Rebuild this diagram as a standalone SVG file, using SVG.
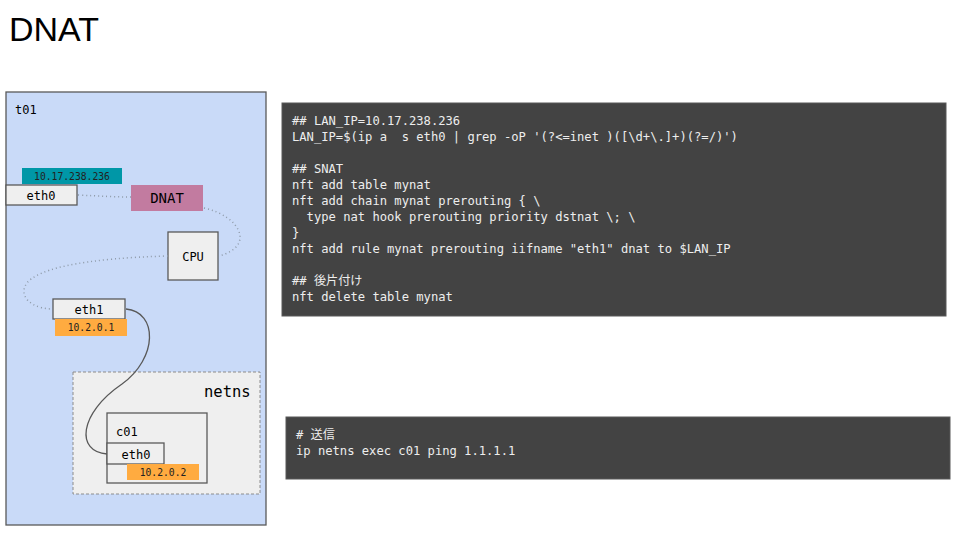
<svg xmlns="http://www.w3.org/2000/svg" width="960" height="540" viewBox="0 0 960 540">
<style>
.box{fill:#efefef;stroke:#595959;stroke-width:1.3}
.mono{font-family:"DejaVu Sans Mono","Liberation Mono",monospace;fill:#000}
.lbl{font-size:12px}
.ip{font-size:9.7px;fill:#222}
.code{font-family:"DejaVu Sans Mono","Liberation Mono","Noto Sans CJK JP",monospace;font-size:12.15px;fill:#eeeeee;white-space:pre}
.dot{fill:none;stroke:#8e9aa8;stroke-width:1.5;stroke-dasharray:1 3}
.solid{fill:none;stroke:#595959;stroke-width:1.3}
</style>
<rect width="960" height="540" fill="#ffffff"/>
<text x="9" y="41" font-family="Liberation Sans, Arial, sans-serif" font-size="34" fill="#000">DNAT</text>

<g id="t01">
<rect x="6" y="92" width="260" height="433" fill="#c9daf8" stroke="#595959" stroke-width="1.3"/>
<text class="mono lbl" x="15" y="114">t01</text>
</g>

<g id="netns">
<rect x="73" y="372" width="187" height="122" fill="#efefef" stroke="#8c8c8c" stroke-width="1" stroke-dasharray="3 2"/>
<text class="mono" x="204" y="397" font-size="15.5">netns</text>
</g>

<g id="c01">
<rect class="box" x="107" y="413" width="100" height="70"/>
<text class="mono lbl" x="116" y="436">c01</text>
</g>

<g id="eth0_c01">
<rect class="box" x="107" y="443" width="57" height="21"/>
<text class="mono lbl" x="136" y="459" text-anchor="middle">eth0</text>
</g>
<g id="ip_10_2_0_2">
<rect x="127" y="464" width="72" height="16" fill="#ffab40"/>
<text class="mono ip" x="163" y="475.5" text-anchor="middle">10.2.0.2</text>
</g>

<g id="ip_lan">
<rect x="22" y="168" width="100" height="16" fill="#0097a7"/>
<text class="mono ip" x="72" y="179.5" text-anchor="middle">10.17.238.236</text>
</g>
<g id="eth0">
<rect class="box" x="6" y="185" width="71" height="20"/>
<text class="mono lbl" x="41" y="200" text-anchor="middle">eth0</text>
</g>

<g id="dnat">
<rect x="131" y="185" width="72" height="26" fill="#c27ba0"/>
<text class="mono" x="167" y="203" font-size="14" text-anchor="middle">DNAT</text>
</g>

<g id="cpu">
<rect class="box" x="168" y="232" width="50" height="48"/>
<text class="mono lbl" x="193" y="261" text-anchor="middle">CPU</text>
</g>

<g id="eth1">
<rect class="box" x="53" y="299" width="72" height="20"/>
<text class="mono lbl" x="89" y="314" text-anchor="middle">eth1</text>
</g>
<g id="ip_10_2_0_1">
<rect x="55" y="319" width="72" height="17" fill="#ffab40"/>
<text class="mono ip" x="91" y="331" text-anchor="middle">10.2.0.1</text>
</g>

<g id="connectors">
<path class="dot" d="M78,195 C100,196 115,197 131,197"/>
<path class="dot" d="M204,208 C240,216 256,246 219,256"/>
<path class="dot" d="M168,256 C90,258 26,268 24,290 C23,302 38,309 53,309"/>
<path class="solid" d="M126,309 C158,312 158,358 122,384 C78,414 76,452 107,454"/>
</g>

<g id="code1">
<rect x="282" y="103" width="664" height="213" fill="#434343" stroke="#595959" stroke-width="1"/>
<text class="code" x="292" y="125">## LAN_IP=10.17.238.236</text>
<text class="code" x="292" y="141">LAN_IP=$(ip a  s eth0 | grep -oP '(?&lt;=inet )([\d+\.]+)(?=/)')</text>
<text class="code" x="292" y="173">## SNAT</text>
<text class="code" x="292" y="189">nft add table mynat</text>
<text class="code" x="292" y="205">nft add chain mynat prerouting { \</text>
<text class="code" x="292" y="221">  type nat hook prerouting priority dstnat \; \</text>
<text class="code" x="292" y="237">}</text>
<text class="code" x="292" y="253">nft add rule mynat prerouting iifname "eth1" dnat to $LAN_IP</text>
<text class="code" x="292" y="285">## 後片付け</text>
<text class="code" x="292" y="301">nft delete table mynat</text>
</g>

<g id="code2">
<rect x="286" y="417" width="664" height="62" fill="#434343" stroke="#595959" stroke-width="1"/>
<text class="code" x="296" y="439"># 送信</text>
<text class="code" x="296" y="455">ip netns exec c01 ping 1.1.1.1</text>
</g>
</svg>
